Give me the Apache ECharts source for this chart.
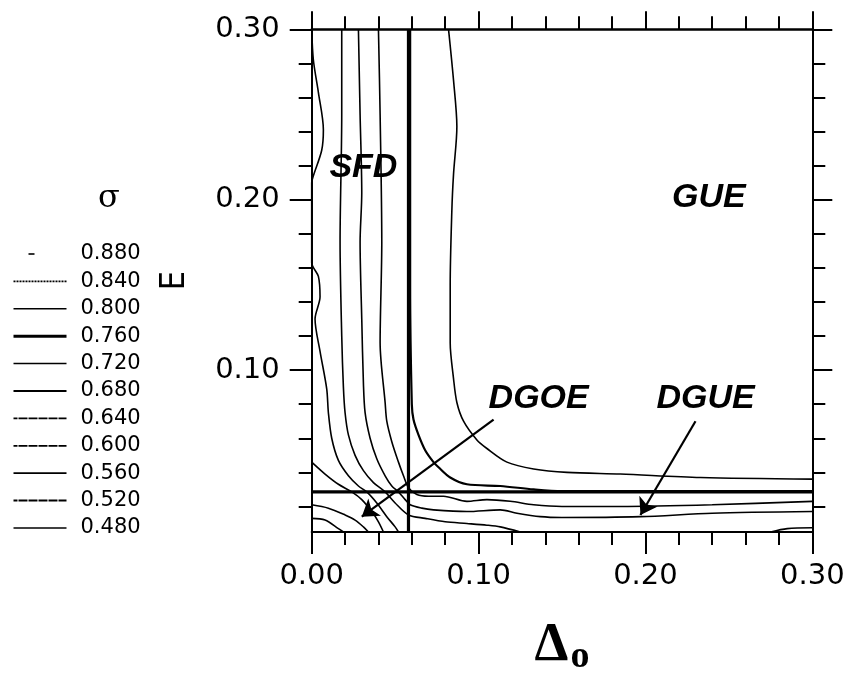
<!DOCTYPE html>
<html>
<head>
<meta charset="utf-8">
<script src="https://cdn.jsdelivr.net/npm/echarts@6/dist/echarts.min.js"></script>
<style>
  html, body { margin: 0; padding: 0; background: #fff; }
  #chart { width: 857px; height: 681px; }
</style>
</head>
<body>
<div id="chart"></div>
<script>
// Ejes
var xRange = [0, 0.30];
var yRange = [0.005, 0.30];
var xLabelValues = [0, 0.10, 0.20, 0.30];
var yLabelValues = [0.10, 0.20, 0.30];
var yMajorTicks = [0.10, 0.20, 0.30];
var yMinorTicks = [0.02, 0.04, 0.06, 0.08, 0.12, 0.14, 0.16, 0.18, 0.22, 0.24, 0.26, 0.28];

// Niveles de sigma (leyenda)
var sigmaLevels = ['0.880', '0.840', '0.800', '0.760', '0.720', '0.680', '0.640', '0.600', '0.560', '0.520', '0.480'];

// Curvas de nivel [Delta0, E]
var s880 = [];
var s840 = [[0.275, 0.005], [0.285, 0.007], [0.300, 0.0075]];
var s800 = [[0.082, 0.300], [0.085, 0.270], [0.087, 0.243], [0.085, 0.215], [0.084, 0.194], [0.083, 0.150],
            [0.083, 0.116], [0.085, 0.095], [0.087, 0.081], [0.091, 0.070], [0.099, 0.059], [0.105, 0.054],
            [0.117, 0.046], [0.133, 0.042], [0.153, 0.040], [0.185, 0.039], [0.233, 0.037], [0.300, 0.036]];
var s760 = [[0.059, 0.300], [0.059, 0.150], [0.060, 0.080], [0.061, 0.071], [0.064, 0.062], [0.068, 0.053],
            [0.073, 0.046], [0.076, 0.043], [0.083, 0.037], [0.093, 0.033], [0.113, 0.032], [0.133, 0.030],
            [0.150, 0.029], [0.300, 0.029]];
var s720 = [[0.040, 0.300], [0.041, 0.250], [0.042, 0.175], [0.041, 0.116], [0.044, 0.081], [0.045, 0.070],
            [0.048, 0.058], [0.052, 0.046], [0.055, 0.038], [0.058, 0.031], [0.063, 0.027], [0.070, 0.026],
            [0.079, 0.026], [0.093, 0.023], [0.105, 0.024], [0.119, 0.023], [0.133, 0.021], [0.150, 0.020],
            [0.185, 0.020], [0.240, 0.021], [0.300, 0.023]];
var s680 = [[0.028, 0.300], [0.029, 0.250], [0.030, 0.204], [0.029, 0.175], [0.030, 0.130], [0.031, 0.092],
            [0.032, 0.075], [0.035, 0.060], [0.039, 0.048], [0.044, 0.038], [0.048, 0.032], [0.052, 0.0285],
            [0.056, 0.024], [0.059, 0.021], [0.066, 0.019], [0.073, 0.018], [0.093, 0.017], [0.113, 0.018],
            [0.123, 0.016], [0.137, 0.014], [0.150, 0.0135], [0.197, 0.014], [0.240, 0.016], [0.300, 0.017]];
var s640 = [[0.018, 0.300], [0.018, 0.250], [0.017, 0.175], [0.018, 0.120], [0.019, 0.090], [0.020, 0.075],
            [0.022, 0.062], [0.026, 0.050], [0.031, 0.041], [0.037, 0.034], [0.044, 0.0285], [0.050, 0.022],
            [0.058, 0.015], [0.068, 0.013], [0.080, 0.011], [0.093, 0.010], [0.105, 0.009], [0.113, 0.008],
            [0.125, 0.005]];
var s600 = [[0.000, 0.300], [0.001, 0.282], [0.004, 0.263], [0.007, 0.241], [0.006, 0.229], [0.001, 0.214],
            [0.000, 0.210], [0.000, 0.163], [0.004, 0.155], [0.005, 0.143], [0.002, 0.130], [0.005, 0.111],
            [0.009, 0.089], [0.010, 0.075], [0.012, 0.060], [0.016, 0.047], [0.022, 0.038], [0.028, 0.032],
            [0.033, 0.0285], [0.039, 0.022], [0.045, 0.014], [0.050, 0.008], [0.052, 0.005]];
var s560 = [[0.000, 0.046], [0.008, 0.039], [0.016, 0.033], [0.024, 0.0285], [0.030, 0.024], [0.036, 0.017],
            [0.040, 0.011], [0.043, 0.005]];
var s520 = [[0.000, 0.021], [0.010, 0.019], [0.020, 0.015], [0.026, 0.012], [0.031, 0.008], [0.034, 0.005]];
var s480 = [[0.000, 0.013], [0.008, 0.012], [0.016, 0.007], [0.019, 0.005]];
var contours = [s880, s840, s800, s760, s720, s680, s640, s600, s560, s520, s480];

// Fronteras entre regiones y flechas
var boundaryV = [[0.058, 0.005], [0.058, 0.300]];
var boundaryH = [[0.000, 0.0285], [0.300, 0.0285]];
var arrowDGOE = [[0.109, 0.071], [0.030, 0.014]];
var arrowDGUE = [[0.230, 0.070], [0.197, 0.015]];
var regionNames = ['SFD', 'GUE', 'DGOE', 'DGUE'];
var regionAt = [[0.031, 0.219], [0.238, 0.201], [0.136, 0.083], [0.236, 0.083]];

// muestra de trazo por nivel en la leyenda
var legendStyle = [
  { width: 1.6, type: [6, 100], dashOffset: -15 },
  { width: 1.6, type: [2, 1] },
  { width: 1.5, type: 'solid' },
  { width: 3, type: 'solid' },
  { width: 1.5, type: 'solid' },
  { width: 2.2, type: 'solid' },
  { width: 1.8, type: [9, 1] },
  { width: 1.8, type: [9, 1] },
  { width: 1.7, type: 'solid' },
  { width: 2, type: [9, 1] },
  { width: 1.5, type: 'solid' }
];

var chart = echarts.init(document.getElementById('chart'));

var series = contours.map(function (c, i) {
  return {
    name: sigmaLevels[i],
    type: 'line',
    data: c,
    symbol: 'none',
    smooth: 0.3,
    silent: true,
    lineStyle: { color: '#000', width: i === 3 ? 2.2 : 1.6 },
    itemStyle: { color: '#000' },
    z: 3
  };
});

[boundaryV, boundaryH].forEach(function (b) {
  series.push({
    type: 'line', data: b, symbol: 'none', silent: true,
    lineStyle: { color: '#000', width: 3.2 }, z: 4
  });
});

series.push({
  type: 'lines',
  coordinateSystem: 'cartesian2d',
  silent: true,
  symbol: ['none', 'arrow'],
  symbolSize: [0, 16],
  lineStyle: { color: '#000', width: 2.2, opacity: 1, curveness: 0 },
  data: [{ coords: arrowDGOE }, { coords: arrowDGUE }],
  z: 5
});

series.push({
  type: 'scatter',
  silent: true,
  symbolSize: 0,
  itemStyle: { opacity: 1, color: '#000' },
  data: regionNames.map(function (n, i) { return { name: n, value: regionAt[i] }; }),
  label: {
    show: true,
    position: 'inside',
    formatter: '{b}',
    color: '#000',
    opacity: 1,
    fontFamily: 'Liberation Sans',
    fontWeight: 'bold',
    fontStyle: 'italic',
    fontSize: 34
  },
  z: 6
});

function fmt2(v) { return v.toFixed(2); }

var tickLabel = { color: '#000', fontFamily: 'DejaVu Sans', fontSize: 29 };

chart.setOption({
  animation: false,
  backgroundColor: '#fff',
  title: {
    text: 'σ',
    left: 93,
    top: 178,
    textStyle: { fontFamily: 'DejaVu Serif', fontSize: 32, fontWeight: 'normal', color: '#000' }
  },
  legend: {
    data: sigmaLevels.map(function (n, i) {
      return { name: n, lineStyle: legendStyle[i], itemStyle: { opacity: 0 } };
    }),
    orient: 'vertical',
    left: 7,
    top: 238,
    itemWidth: 53,
    itemHeight: 14,
    itemGap: 5.4,
    selectedMode: false,
    itemStyle: { opacity: 0 },
    lineStyle: { color: '#000' },
    textStyle: {
      fontFamily: 'DejaVu Sans',
      fontSize: 21,
      color: '#000',
      lineHeight: 22,
      padding: [0, 0, 0, 9]
    }
  },
  grid: { left: 311.7, right: 44.7, top: 29.3, bottom: 147.7, containLabel: false },
  xAxis: [{
    type: 'value',
    position: 'bottom',
    min: xRange[0], max: xRange[1], interval: 0.1,
    axisLine: { show: true, lineStyle: { color: '#000', width: 2 } },
    axisTick: { show: true, length: 22, lineStyle: { color: '#000', width: 2 } },
    minorTick: { show: true, splitNumber: 5, length: 13, lineStyle: { color: '#000', width: 2 } },
    splitLine: { show: false },
    axisLabel: Object.assign({ customValues: xLabelValues, formatter: fmt2, margin: 30 }, tickLabel),
    name: '{d|Δ}{s|o}',
    nameLocation: 'middle',
    nameGap: 84,
    nameTextStyle: {
      rich: {
        d: { fontFamily: 'Liberation Serif', fontWeight: 'bold', fontSize: 54, color: '#000' },
        s: { fontFamily: 'Liberation Serif', fontWeight: 'bold', fontSize: 38, color: '#000', padding: [22, 0, 0, 2] }
      }
    }
  }, {
    type: 'value',
    position: 'top',
    min: xRange[0], max: xRange[1], interval: 0.1,
    axisLine: { show: true, lineStyle: { color: '#000', width: 2.5 } },
    axisTick: { show: true, length: 18, lineStyle: { color: '#000', width: 2 } },
    minorTick: { show: true, splitNumber: 5, length: 13, lineStyle: { color: '#000', width: 2 } },
    splitLine: { show: false },
    axisLabel: { show: false }
  }],
  yAxis: [{
    type: 'value',
    position: 'left',
    min: yRange[0], max: yRange[1],
    axisLine: { show: true, lineStyle: { color: '#000', width: 2 } },
    axisTick: { show: true, customValues: yMajorTicks, length: 22, lineStyle: { color: '#000', width: 2 } },
    splitLine: { show: false },
    axisLabel: Object.assign({ customValues: yLabelValues, formatter: fmt2, margin: 32 }, tickLabel),
    name: 'E',
    nameLocation: 'middle',
    nameRotate: 90,
    nameGap: 120,
    nameTextStyle: { fontFamily: "'DejaVu Sans Condensed', 'Liberation Sans', sans-serif", fontSize: 34, color: '#000' }
  }, {
    type: 'value',
    position: 'left',
    min: yRange[0], max: yRange[1],
    axisLine: { show: false },
    axisTick: { show: true, customValues: yMinorTicks, length: 13, lineStyle: { color: '#000', width: 2 } },
    splitLine: { show: false },
    axisLabel: { show: false }
  }, {
    type: 'value',
    position: 'right',
    min: yRange[0], max: yRange[1],
    axisLine: { show: true, lineStyle: { color: '#000', width: 2 } },
    axisTick: { show: true, customValues: yMajorTicks, length: 20, lineStyle: { color: '#000', width: 2 } },
    splitLine: { show: false },
    axisLabel: { show: false }
  }, {
    type: 'value',
    position: 'right',
    min: yRange[0], max: yRange[1],
    axisLine: { show: false },
    axisTick: { show: true, customValues: yMinorTicks, length: 13, lineStyle: { color: '#000', width: 2 } },
    splitLine: { show: false },
    axisLabel: { show: false }
  }],
  series: series
});
</script>
</body>
</html>
